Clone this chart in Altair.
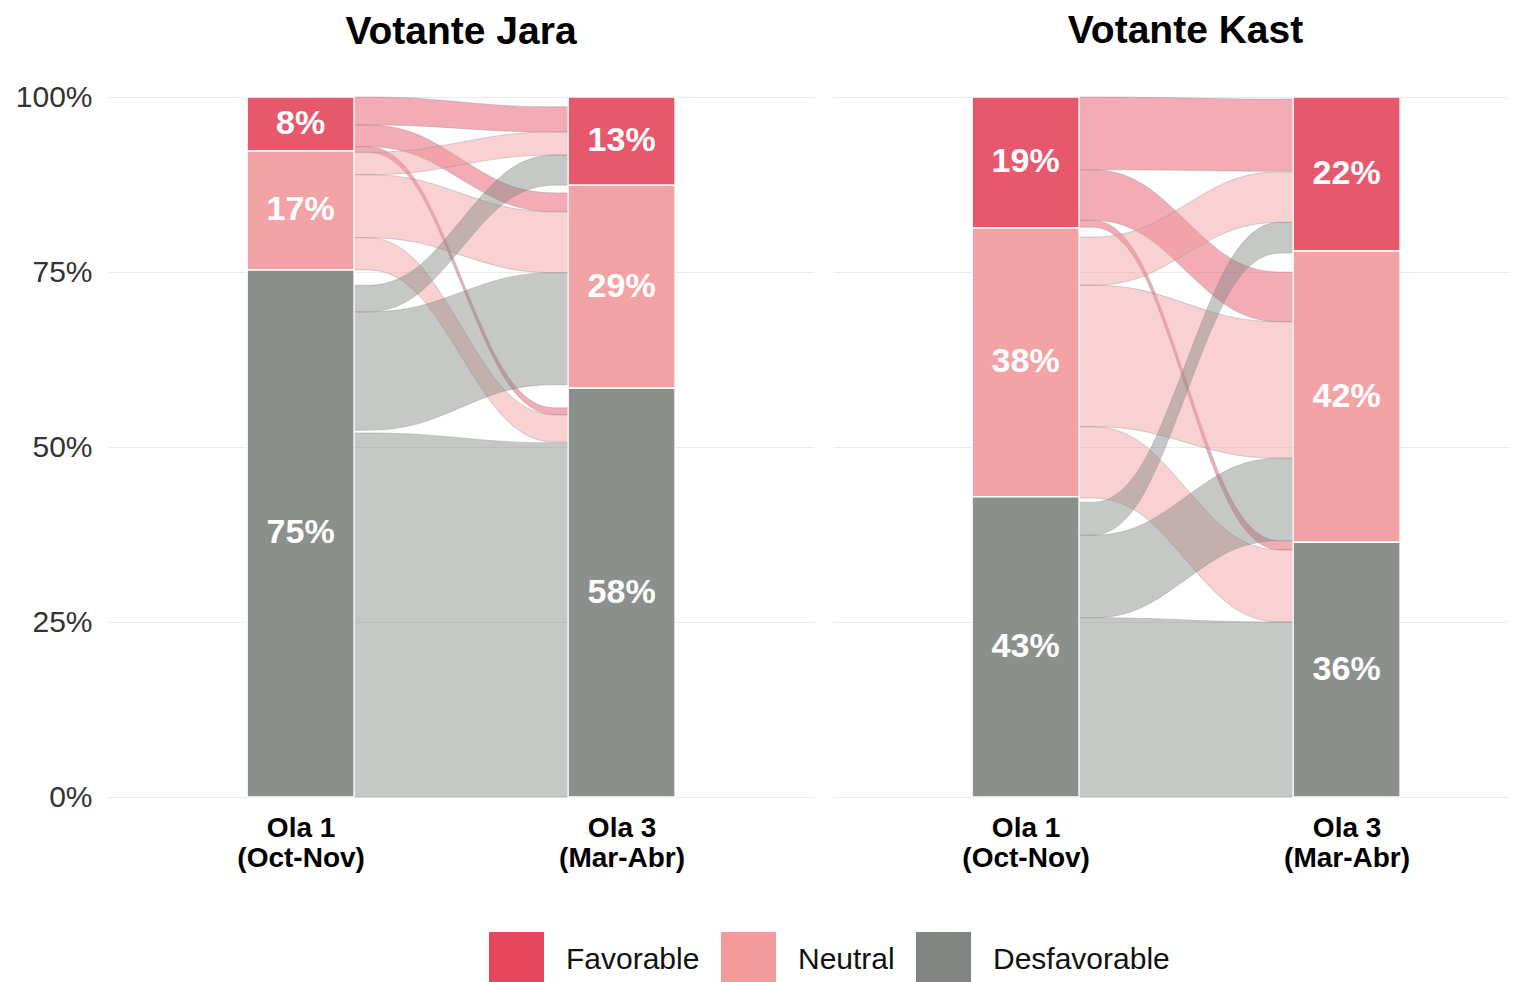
import json
import altair as alt
import pandas as pd

# ---------------- data ----------------
categories = ["Favorable", "Neutral", "Desfavorable"]
colors = ["#E5475D", "#F29A9C", "#808581"]
wave_labels = [["Ola 1", "(Oct-Nov)"], ["Ola 3", "(Mar-Abr)"]]
panel_titles = ["Votante Jara", "Votante Kast"]

# stratum shares (%) per wave, in category order
jara_ola1 = [7.7, 17.0, 75.3]
jara_ola3 = [12.6, 29.0, 58.4]
kast_ola1 = [18.7, 38.4, 42.9]
kast_ola3 = [22.0, 41.6, 36.4]

# flows: origin category, destination category, band limits (%) at each end
jara_from = ["Favorable", "Favorable", "Favorable", "Neutral", "Neutral", "Neutral",
             "Desfavorable", "Desfavorable", "Desfavorable"]
jara_to = ["Favorable", "Neutral", "Desfavorable", "Favorable", "Neutral", "Desfavorable",
           "Favorable", "Neutral", "Desfavorable"]
jara_left_top = [100.0, 96.0, 92.9, 92.1, 88.9, 79.9, 73.1, 69.3, 52.0]
jara_left_bottom = [96.0, 92.9, 92.1, 88.9, 79.9, 75.3, 69.3, 52.4, 0.0]
jara_right_top = [98.6, 86.3, 55.6, 95.0, 83.6, 54.6, 91.7, 74.9, 50.6]
jara_right_bottom = [95.0, 83.6, 54.6, 91.7, 74.9, 50.7, 87.4, 58.9, 0.0]

kast_from = jara_from
kast_to = jara_to
kast_left_top = [100.0, 89.6, 82.4, 80.0, 73.1, 52.9, 42.1, 37.4, 25.6]
kast_left_bottom = [89.6, 82.4, 81.4, 73.1, 52.9, 42.7, 37.4, 25.6, 0.0]
kast_right_top = [99.7, 75.0, 36.6, 89.3, 67.9, 35.3, 82.1, 48.4, 25.0]
kast_right_bottom = [89.4, 67.9, 35.3, 82.1, 48.4, 25.0, 77.7, 36.6, 0.0]

FONT = "Liberation Sans"
BAR_W = 1 / 3
UNIT = 321  # pixels per x unit
color_scale = alt.Scale(domain=categories, range=colors)


def bars_table(ola1, ola3):
    rows = []
    for pos, vals in ((1, ola1), (2, ola3)):
        top = 100.0
        for cat, v in zip(categories, vals):
            rows.append({"pos": pos, "cat": cat, "value": v,
                         "x0": pos - BAR_W / 2, "x1": pos + BAR_W / 2,
                         "y_top": top, "y_bot": top - v, "y_mid": top - v / 2,
                         "label": f"{round(v)}%"})
            top -= v
    return pd.DataFrame(rows)


def flows_table(fr, to, lt, lb, rt, rb):
    rows = []
    xa, xb = 1 + BAR_W / 2, 2 - BAR_W / 2
    k = 0.3
    for i in range(len(fr)):
        ctrl = [(xa, lt[i], lb[i]), (xa + (xb - xa) * k, lt[i], lb[i]),
                (xb - (xb - xa) * k, rt[i], rb[i]), (xb, rt[i], rb[i])]
        for x, t, b in ctrl:
            rows.append({"flow": f"{fr[i]}->{to[i]}", "cat": fr[i], "x": x,
                         "y_top": t, "y_bot": b})
    return pd.DataFrame(rows)


legend = alt.Legend(
    orient="none", legendX=381, legendY=835, direction="horizontal", title=None,
    symbolType="square", symbolSize=3025, symbolStrokeWidth=0, symbolOpacity=1,
    labelFontSize=30, labelFont=FONT, labelColor="#111",
    labelOffset=22, columnPadding=21, padding=0, labelLimit=400,
)

lab_expr = "[" + ", ".join(json.dumps(l) for l in wave_labels) + "][datum.value - 1]"


def panel(title, ola1, ola3, fr, to, lt, lb, rt, rb, left, width, title_dx,
          title_offset):
    bars = bars_table(ola1, ola3)
    flows = flows_table(fr, to, lt, lb, rt, rb)
    xscale = alt.Scale(domain=[0.4, 0.4 + width / UNIT], nice=False, zero=False)
    xaxis = alt.Axis(values=[1, 2], labelExpr=lab_expr, title=None, grid=False,
                     ticks=False, domain=False, labelFontSize=28, labelFont=FONT,
                     labelFontWeight="bold", labelColor="#000", labelPadding=17,
                     labelLineHeight=30, labelOverlap=False, labelFlush=False)
    if left:
        yaxis = alt.Axis(values=[0, 25, 50, 75, 100], labelExpr="datum.value + '%'",
                         title=None, ticks=False, domain=False, grid=True,
                         gridColor="#EBEBEB", gridWidth=1.2, labelFontSize=30,
                         labelFont=FONT, labelColor="#333", labelPadding=16,
                         minExtent=100, maxExtent=100)
    else:
        yaxis = alt.Axis(values=[0, 25, 50, 75, 100], title=None, ticks=False,
                         domain=False, labels=False, grid=True, gridColor="#EBEBEB",
                         gridWidth=1.2, minExtent=0, maxExtent=0)
    yscale = alt.Scale(domain=[0, 100], nice=False)
    color = alt.Color("cat:N", scale=color_scale, legend=legend)

    flow_layer = alt.Chart(flows).mark_area(
        interpolate="basis", fillOpacity=0.45, stroke="#8f8f8f",
        strokeWidth=0.7, strokeOpacity=0.55
    ).encode(
        x=alt.X("x:Q", scale=xscale, axis=xaxis),
        y=alt.Y("y_top:Q", scale=yscale, axis=yaxis, stack=False),
        y2="y_bot:Q",
        color=color,
        detail="flow:N",
    )
    bar_layer = alt.Chart(bars).mark_rect(
        opacity=0.9, stroke="white", strokeWidth=1.5
    ).encode(
        x="x0:Q", x2="x1:Q", y="y_top:Q", y2="y_bot:Q",
        color=color,
    )
    text_layer = alt.Chart(bars).mark_text(
        color="white", fontSize=34, fontWeight="bold", font=FONT
    ).encode(x="pos:Q", y="y_mid:Q", text="label:N")

    return alt.layer(flow_layer, bar_layer, text_layer).properties(
        width=width, height=700,
        title=alt.TitleParams(title, fontSize=39, fontWeight="bold", font=FONT,
                              color="#000", anchor="middle", offset=title_offset,
                              frame="group", dx=title_dx),
    )


left = panel(panel_titles[0], jara_ola1, jara_ola3, jara_from, jara_to,
             jara_left_top, jara_left_bottom, jara_right_top, jara_right_bottom,
             True, 706, 0, 30)
right = panel(panel_titles[1], kast_ola1, kast_ola3, kast_from, kast_to,
              kast_left_top, kast_left_bottom, kast_right_top, kast_right_bottom,
              False, 677, 14, 45)

chart = alt.hconcat(left, right, spacing=19).properties(
    padding={"left": 0, "top": 3, "right": 0, "bottom": 0}
).configure(font=FONT).configure_view(strokeWidth=0)

chart.save("out.html", embed_options={"renderer": "svg", "actions": False})
